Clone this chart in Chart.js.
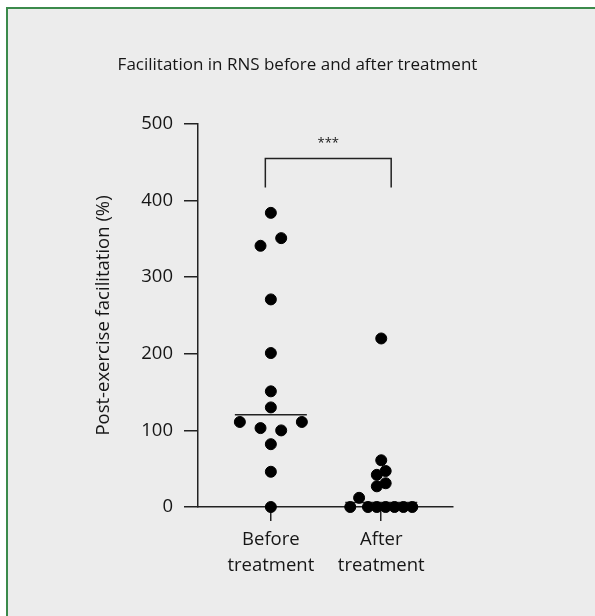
<!DOCTYPE html>
<html>
<head>
<meta charset="utf-8">
<script src="https://cdn.jsdelivr.net/npm/chart.js@4.4.1/dist/chart.umd.min.js"></script>
<style>
    html, body { margin: 0; padding: 0; background: #fff; }
    #frame {
        position: absolute; left: 6px; top: 7px; width: 600px; height: 620px;
        background: #ececec; border-left: 2px solid #3b8a4b; border-top: 2px solid #3b8a4b;
    }
    #wrap { position: absolute; left: 0; top: 0; width: 595px; height: 616px; }
</style>
</head>
<body>
<div id="frame"></div>
<div id="wrap"><canvas id="chart" width="595" height="616"></canvas></div>
<script>
// Data (% post-exercise facilitation)
const groups = [['Before', 'treatment'], ['After', 'treatment']];
const beforeValues = [0, 46, 82, 111, 103, 100, 111, 130, 151, 201, 271, 341, 351, 384];
const afterValues = [0, 12, 0, 0, 0, 0, 0, 0, 27, 31, 42, 47, 61, 220];
const yTicks = [0, 100, 200, 300, 400, 500];
const chartTitle = 'Facilitation in RNS before and after treatment';
const significance = '***';

const textColor = '#161616';
const fontFamily = "'Open Sans', 'Noto Sans', sans-serif";

// Swarm layout settings (pixels)
const rowHeight = 11;      // points closer than this share a row
const maxStep = 20.7;      // widest spacing between neighbours in a row
const swarmWidth = 62;     // total spread of the widest row
const medianHalf = 36;     // half length of the median bar

function median(values) {
    const s = [...values].sort((a, b) => a - b);
    const m = Math.floor(s.length / 2);
    return s.length % 2 ? s[m] : (s[m - 1] + s[m]) / 2;
}

// Spread points of one column sideways so they don't pile up
function swarm(values, center, chart) {
    const xs = chart.scales.x, ys = chart.scales.y;
    const pxPerX = xs.getPixelForValue(1) - xs.getPixelForValue(0);
    const order = values.map((v, i) => i).sort((a, b) => values[a] - values[b] || a - b);
    const rows = [];
    order.forEach(i => {
        const row = rows[rows.length - 1];
        const py = ys.getPixelForValue(values[i]);
        if (row && row.base - py < rowHeight) row.items.push(i);
        else rows.push({ base: py, items: [i] });
    });
    const widest = Math.max(...rows.map(r => r.items.length));
    const step = widest > 1 ? Math.min(maxStep, swarmWidth / (widest - 1)) : 0;
    const out = new Array(values.length);
    rows.forEach(r => {
        r.items.sort((a, b) => a - b);
        r.items.forEach((i, k) => {
            const off = (k - (r.items.length - 1) / 2) * step;
            out[i] = { x: center + off / pxPerX, y: values[i] };
        });
    });
    return out;
}

// Title, median bars and the significance bracket
const extras = {
    id: 'extras',
    beforeDatasetsDraw(chart) {
        const { ctx, scales: { x, y } } = chart;
        ctx.save();
        ctx.strokeStyle = '#222';
        ctx.lineWidth = 1.5;
        [beforeValues, afterValues].forEach((vals, g) => {
            const cx = x.getPixelForValue(g + 1);
            const py = y.getPixelForValue(median(vals));
            ctx.beginPath();
            ctx.moveTo(cx - medianHalf, py);
            ctx.lineTo(cx + medianHalf, py);
            ctx.stroke();
        });
        ctx.restore();
    },
    afterDraw(chart) {
        const { ctx, scales: { x, y } } = chart;
        ctx.save();
        ctx.fillStyle = textColor;
        ctx.textAlign = 'center';
        ctx.textBaseline = 'middle';
        ctx.font = '17px ' + fontFamily;
        ctx.fillText(chartTitle, chart.width / 2, 65);

        const x1 = x.getPixelForValue(0.95), x2 = x.getPixelForValue(2.09);
        const yTop = y.getPixelForValue(455), yLow = y.getPixelForValue(417);
        ctx.strokeStyle = '#222';
        ctx.lineWidth = 1.5;
        ctx.beginPath();
        ctx.moveTo(x1, yLow);
        ctx.lineTo(x1, yTop);
        ctx.lineTo(x2, yTop);
        ctx.lineTo(x2, yLow);
        ctx.stroke();
        ctx.font = '13px ' + fontFamily;
        ctx.fillText(significance, (x1 + x2) / 2, y.getPixelForValue(475));
        ctx.restore();
    }
};

const dotStyle = {
    backgroundColor: '#000',
    borderColor: '#000',
    pointRadius: 5.5,
    pointHoverRadius: 5.5,
    clip: false
};

const chart = new Chart(document.getElementById('chart'), {
    type: 'scatter',
    data: {
        datasets: [
            { label: 'Before', data: beforeValues.map(v => ({ x: 1, y: v })), ...dotStyle },
            { label: 'After', data: afterValues.map(v => ({ x: 2, y: v })), ...dotStyle }
        ]
    },
    options: {
        responsive: false,
        animation: false,
        layout: { padding: { left: 0, right: 142, top: 124, bottom: 0 } },
        plugins: {
            legend: { display: false },
            tooltip: { enabled: false },
            title: { display: false }
        },
        scales: {
            x: {
                type: 'linear',
                min: 0.34,
                max: 2.65,
                afterBuildTicks: s => { s.ticks = [{ value: 1 }, { value: 2 }]; },
                afterFit: s => { s.height = 109; },
                ticks: {
                    callback: v => groups[v - 1],
                    color: textColor,
                    font: { family: fontFamily, size: 18.5, lineHeight: 1.4 },
                    padding: 6,
                    maxRotation: 0
                },
                grid: { drawOnChartArea: false, tickLength: 14, color: '#222', lineWidth: 1.5 },
                border: { color: '#222', width: 1.5 }
            },
            y: {
                min: 0,
                max: 500,
                afterBuildTicks: s => { s.ticks = yTicks.map(v => ({ value: v })); },
                afterFit: s => { s.width = 198; },
                ticks: {
                    color: textColor,
                    font: { family: fontFamily, size: 18.5 },
                    padding: 11
                },
                grid: { drawOnChartArea: false, tickLength: 14, color: '#222', lineWidth: 1.5 },
                border: { color: '#222', width: 1.5 },
                title: {
                    display: true,
                    text: 'Post-exercise facilitation (%)',
                    color: textColor,
                    font: { family: fontFamily, size: 18.5 },
                    padding: { top: 93, bottom: 0 }
                }
            }
        }
    },
    plugins: [extras]
});

// Second pass: place the points now that the scales are known
chart.data.datasets[0].data = swarm(beforeValues, 1, chart);
chart.data.datasets[1].data = swarm(afterValues, 2, chart);
chart.update();
</script>
</body>
</html>
